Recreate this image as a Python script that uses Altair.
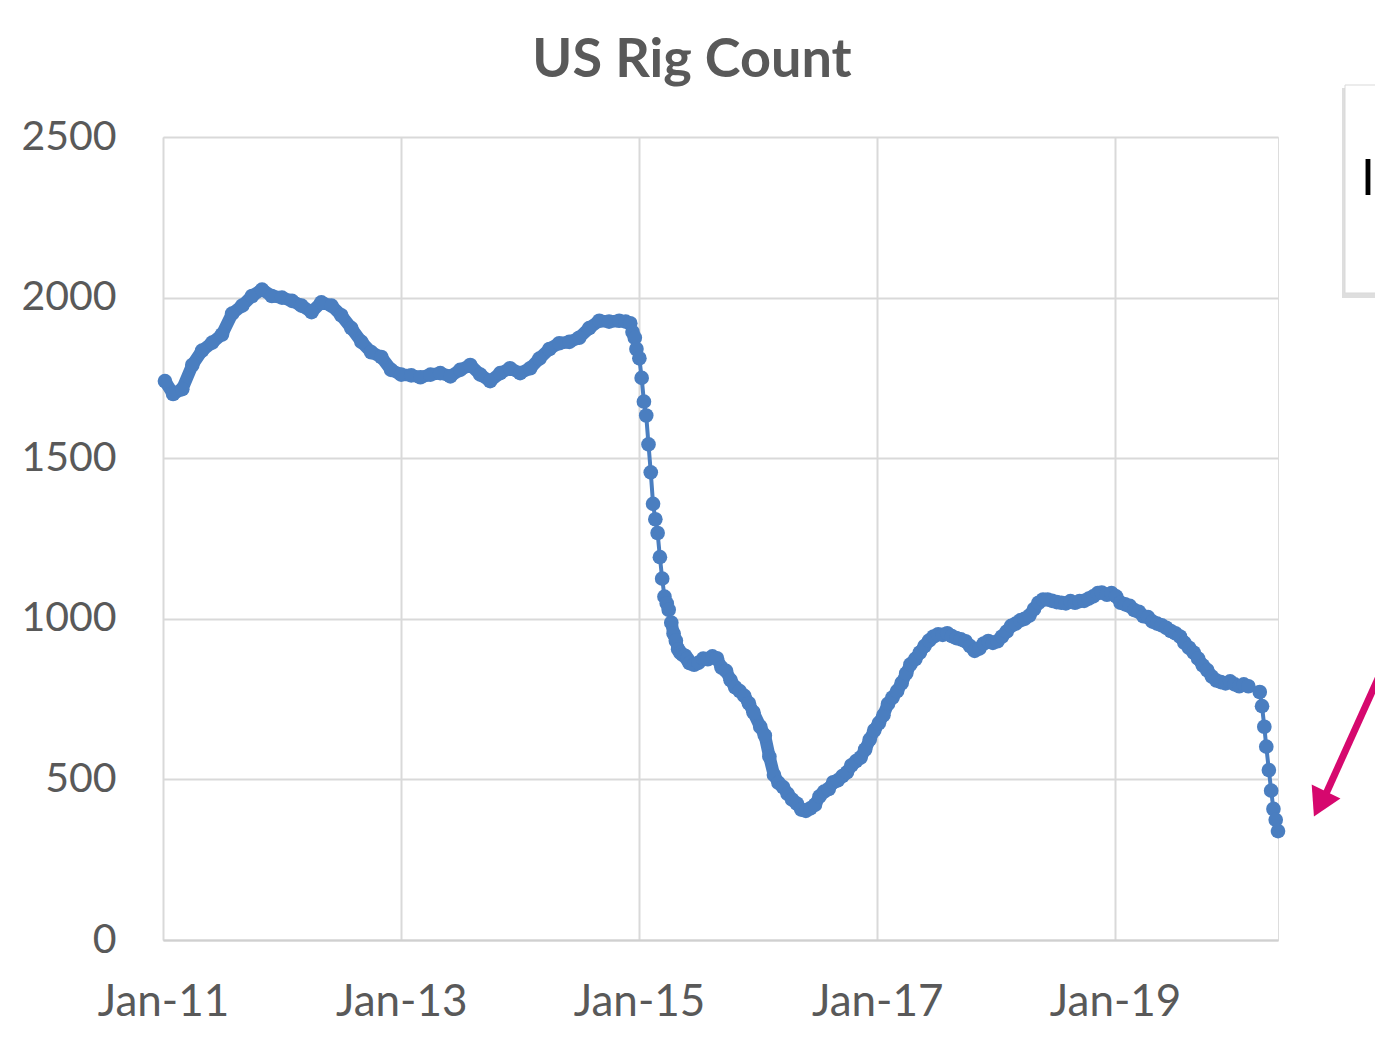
import altair as alt
import pandas as pd

TITLE = "US Rig Count"
BLUE = "#4a7ec0"
GREY_TXT = "#595959"

# Monthly readings 2011 - Nov 2014
dates_a = ["2011-01-07", "2011-02-01", "2011-03-01", "2011-04-01", "2011-05-01", "2011-06-01",
           "2011-07-01", "2011-08-01", "2011-09-01", "2011-10-01", "2011-11-01", "2011-12-01",
           "2012-01-01", "2012-02-01", "2012-03-01", "2012-04-01", "2012-05-01", "2012-06-01",
           "2012-07-01", "2012-08-01", "2012-09-01", "2012-10-01", "2012-11-01", "2012-12-01",
           "2013-01-01", "2013-02-01", "2013-03-01", "2013-04-01", "2013-05-01", "2013-06-01",
           "2013-07-01", "2013-08-01", "2013-09-01", "2013-10-01", "2013-11-01", "2013-12-01",
           "2014-01-01", "2014-02-01", "2014-03-01", "2014-04-01", "2014-05-01", "2014-06-01",
           "2014-07-01", "2014-08-01", "2014-09-01", "2014-10-01", "2014-11-01"]
rigs_a = [1740, 1700, 1715, 1790, 1835, 1860,
          1885, 1950, 1975, 2005, 2025, 2005,
          2000, 1990, 1975, 1955, 1985, 1975,
          1945, 1905, 1862, 1830, 1815, 1775,
          1760, 1758, 1752, 1760, 1765, 1755,
          1775, 1790, 1760, 1740, 1765, 1780,
          1765, 1780, 1810, 1840, 1858, 1862,
          1875, 1905, 1928, 1925, 1928]

# Weekly readings through the 2015 collapse
dates_b = ["2014-11-21", "2014-12-05", "2014-12-12", "2014-12-19", "2014-12-24", "2015-01-02",
           "2015-01-09", "2015-01-16", "2015-01-23", "2015-01-30", "2015-02-06", "2015-02-13",
           "2015-02-20", "2015-02-27", "2015-03-06", "2015-03-13", "2015-03-20", "2015-03-27",
           "2015-04-02", "2015-04-10", "2015-04-17", "2015-04-24", "2015-05-01", "2015-05-08",
           "2015-05-15", "2015-05-22", "2015-05-29", "2015-06-05", "2015-06-19", "2015-07-02",
           "2015-07-17", "2015-07-31", "2015-08-14", "2015-08-28"]
rigs_b = [1925, 1920, 1893, 1875, 1840, 1811,
          1750, 1676, 1633, 1543, 1456, 1358,
          1310, 1267, 1192, 1125, 1069, 1048,
          1028, 988, 954, 932, 905, 894,
          888, 885, 875, 862, 857, 863,
          876, 874, 883, 877]

# Semi-monthly readings Sep 2015 - Mar 2020
dates_c = ["2015-09-11", "2015-09-25", "2015-10-09", "2015-10-23", "2015-11-06", "2015-11-20",
           "2015-12-04", "2015-12-18", "2016-01-08", "2016-01-22", "2016-02-05", "2016-02-19",
           "2016-03-04", "2016-03-18", "2016-04-01", "2016-04-15", "2016-04-29", "2016-05-13",
           "2016-05-27", "2016-06-10", "2016-06-24", "2016-07-08", "2016-07-22", "2016-08-05",
           "2016-08-19", "2016-09-02", "2016-09-16", "2016-09-30", "2016-10-14", "2016-10-28",
           "2016-11-11", "2016-11-25", "2016-12-09", "2016-12-23",
           "2017-01-06", "2017-01-20", "2017-02-03", "2017-02-17", "2017-03-03", "2017-03-17",
           "2017-03-31", "2017-04-13", "2017-04-28", "2017-05-12", "2017-05-26", "2017-06-09",
           "2017-06-23", "2017-07-07", "2017-07-21", "2017-08-04", "2017-08-18", "2017-09-01",
           "2017-09-15", "2017-09-29", "2017-10-13", "2017-10-27", "2017-11-10", "2017-11-24",
           "2017-12-08", "2017-12-22",
           "2018-01-05", "2018-01-19", "2018-02-02", "2018-02-16", "2018-03-02", "2018-03-16",
           "2018-03-29", "2018-04-13", "2018-04-27", "2018-05-11", "2018-05-25", "2018-06-08",
           "2018-06-22", "2018-07-06", "2018-07-20", "2018-08-03", "2018-08-17", "2018-08-31",
           "2018-09-14", "2018-09-28", "2018-10-12", "2018-10-26", "2018-11-09", "2018-11-21",
           "2018-12-07", "2018-12-21",
           "2019-01-04", "2019-01-18", "2019-02-01", "2019-02-15", "2019-03-01", "2019-03-15",
           "2019-03-29", "2019-04-12", "2019-04-26", "2019-05-10", "2019-05-24", "2019-06-07",
           "2019-06-21", "2019-07-05", "2019-07-19", "2019-08-02", "2019-08-16", "2019-08-30",
           "2019-09-13", "2019-09-27", "2019-10-11", "2019-10-25", "2019-11-08", "2019-11-22",
           "2019-12-06", "2019-12-20",
           "2020-01-03", "2020-01-17", "2020-01-31", "2020-02-14", "2020-02-28", "2020-03-13"]
rigs_c = [848, 838, 809, 787, 775, 760,
          737, 709, 664, 637, 571, 514,
          489, 476, 455, 437, 425, 406,
          402, 410, 421, 447, 462, 470,
          491, 497, 510, 522, 544, 557,
          568, 593, 624, 653,
          675, 700, 735, 755, 775, 800,
          830, 858, 875, 895, 915, 932,
          945, 952, 950, 955, 946, 940,
          936, 930, 915, 900, 907, 923,
          931, 925,
          930, 945, 960, 978, 985, 995,
          1000, 1010, 1030, 1050, 1060, 1060,
          1056, 1052, 1050, 1048, 1055, 1050,
          1055, 1056, 1063, 1070, 1080, 1082,
          1075, 1080,
          1070, 1050, 1045, 1040, 1027, 1022,
          1008, 1005, 991, 985, 980, 972,
          962, 955, 945, 925, 910, 895,
          876, 855, 840, 820, 808, 803,
          799, 805, 796, 790, 796, 790]

# Weekly readings of the 2020 drop
dates_d = ["2020-03-20", "2020-03-27", "2020-04-03", "2020-04-09", "2020-04-17", "2020-04-24",
           "2020-05-01", "2020-05-08", "2020-05-15"]
rigs_d = [772, 728, 664, 602, 529, 465, 408, 374, 339]

n_c = min(len(dates_c), len(rigs_c))
df = pd.DataFrame({
    "date": dates_a + dates_b + dates_c[:n_c] + dates_d,
    "rigs": rigs_a + rigs_b + rigs_c[:n_c] + rigs_d,
})
# the weekly markers crowd into a solid band everywhere except the two plunges
dense = df[((df["date"] < "2014-12-01") | (df["date"] > "2015-04-05")) &
           (df["date"] < "2020-03-14")].copy()
dense["seg"] = ["pre" if d < "2014-12-01" else "post" for d in dense["date"]]

x_ticks = [alt.DateTime(year=y, month=1, date=1, utc=True) for y in (2011, 2013, 2015, 2017, 2019)]
y_ticks = [0, 500, 1000, 1500, 2000, 2500]

x_enc = alt.X(
    "date:T",
    scale=alt.Scale(type="utc",
                    domain=[alt.DateTime(year=2011, month=1, date=1, utc=True),
                            alt.DateTime(year=2020, month=5, date=15, utc=True)]),
    axis=alt.Axis(values=x_ticks, labelExpr="utcFormat(datum.value, '%b-%y')", title=None,
                  labelFont="Lato", labelFontSize=44, labelColor=GREY_TXT,
                  labelPadding=40, ticks=False, domain=True, domainColor="#d0d0d0",
                  domainWidth=2, grid=True, gridColor="#d9d9d9", gridWidth=2,
                  labelFlush=False, labelOverlap=False),
)
y_enc = alt.Y(
    "rigs:Q",
    scale=alt.Scale(domain=[0, 2500], nice=False),
    axis=alt.Axis(values=y_ticks, format="d", title=None, labelFont="Lato", labelFontSize=41,
                  labelColor=GREY_TXT, labelPadding=47, ticks=False, domain=False,
                  grid=True, gridColor="#d9d9d9", gridWidth=2),
)

line = alt.Chart(df).mark_line(color=BLUE, strokeWidth=4).encode(x=x_enc, y=y_enc)
band = alt.Chart(dense).mark_line(color=BLUE, strokeWidth=12.5, strokeCap="round",
                                  strokeJoin="round").encode(x="date:T", y="rigs:Q", detail="seg:N")
points = alt.Chart(df).mark_point(filled=True, size=215, color=BLUE, opacity=1).encode(
    x="date:T", y="rigs:Q")

title = alt.Chart(pd.DataFrame({"t": [TITLE]})).mark_text(
    font="Lato", fontSize=54, fontWeight="bold", color=GREY_TXT, align="center", baseline="alphabetic"
).encode(text="t:N", x=alt.value(529), y=alt.value(-60))

# partially visible text box at the right edge
box_df = pd.DataFrame({"k": ["box"]})
shadow = alt.Chart(box_df).mark_rect(color="#c8c8c8", opacity=0.6).encode(
    x=alt.value(1179), x2=alt.value(1260), y=alt.value(-49), y2=alt.value(161))
box = alt.Chart(box_df).mark_rect(fill="white", stroke="#d9d9d9", strokeWidth=1).encode(
    x=alt.value(1182), x2=alt.value(1260), y=alt.value(-52), y2=alt.value(156))
box_text = alt.Chart(pd.DataFrame({"t": ["I"]})).mark_text(
    font="Liberation Sans", fontSize=52, color="black", align="center", baseline="middle"
).encode(text="t:N", x=alt.value(1205), y=alt.value(42))

# magenta arrow
arrow_df = pd.DataFrame({"k": ["arrow"]})
shaft = alt.Chart(arrow_df).mark_rule(color="#d6086e", strokeWidth=7).encode(
    x=alt.value(1222), x2=alt.value(1162), y=alt.value(526), y2=alt.value(659))
head = alt.Chart(arrow_df).mark_point(shape="triangle-up", filled=True, size=1024,
                                      color="#d6086e", opacity=1, angle=206).encode(
    x=alt.value(1157), y=alt.value(667))

chart = alt.layer(line, band, points, title, shadow, box, box_text, shaft, head).properties(
    width=1115, height=803,
    autosize=alt.AutoSizeParams(type="none"),
    padding={"left": 155, "top": 129, "right": 97, "bottom": 99},
).configure_view(stroke=None).configure(background="white")

chart.save("out.html", embed_options={"renderer": "svg", "actions": False})
